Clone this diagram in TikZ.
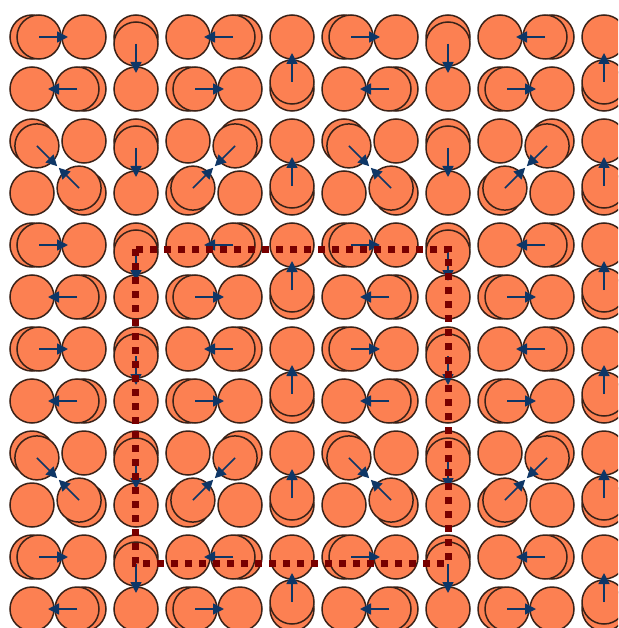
\documentclass[tikz,border=0pt]{standalone}
\usepackage{xcolor}
\usepackage{tikz}
\usetikzlibrary{arrows.meta}

\definecolor{atomfill}{RGB}{252,128,82}
\definecolor{atomline}{RGB}{58,34,24}
\definecolor{dispblue}{RGB}{14,54,102}
\definecolor{cellred}{RGB}{120,0,0}

\begin{document}
\begin{tikzpicture}[
    x=1pt, y=-1pt,
    atom/.style={draw=atomline, fill=atomfill, line width=1.5pt},
    disp/.style={-{Triangle[length=11pt, width=11pt]}, line width=1.7pt, draw=dispblue, fill=dispblue},
    cell/.style={draw=cellred, line width=7pt, dash pattern=on 7pt off 7pt},
]
\useasboundingbox (0,0) rectangle (618,628);
\clip (0,0) rectangle (618,628);

% --- Lattice sites ---
\foreach \c in {0,...,11}
  \foreach \r in {0,...,11}
    \draw[atom] ({32+52*\c},{37+52*\r}) circle[radius=22pt];

% --- Displaced atoms (one 6x6 cell, repeated) ---
\foreach \ox in {0,312}
  \foreach \oy in {0,312}
    \foreach \c/\r/\u/\v in {0/0/1/0, 2/0/0/1, 4/0/-1/0,
                             1/1/-1/0, 3/1/1/0, 5/1/0/-1,
                             0/2/.7/.7, 2/2/0/1, 4/2/-.7/.7,
                             1/3/-.7/-.7, 3/3/.7/-.7, 5/3/0/-1,
                             0/4/1/0, 2/4/0/1, 4/4/-1/0,
                             1/5/-1/0, 3/5/1/0, 5/5/0/-1} {
      \coordinate (front) at ({32+52*\c+\ox+7*\u},{37+52*\r+\oy+7*\v});
      \draw[atom] (front) circle[radius=22pt];
    }

% --- Displacement arrows ---
\foreach \ox in {0,312}
  \foreach \oy in {0,312}
    \foreach \c/\r/\u/\v in {0/0/1/0, 2/0/0/1, 4/0/-1/0,
                             1/1/-1/0, 3/1/1/0, 5/1/0/-1,
                             0/2/.7/.7, 2/2/0/1, 4/2/-.7/.7,
                             1/3/-.7/-.7, 3/3/.7/-.7, 5/3/0/-1,
                             0/4/1/0, 2/4/0/1, 4/4/-1/0,
                             1/5/-1/0, 3/5/1/0, 5/5/0/-1} {
      \coordinate (tail) at ({32+52*\c+\ox+7*\u},{37+52*\r+\oy+7*\v});
      \draw[disp] (tail) -- ++({29*\u},{29*\v});
    }

% --- Unit cell ---
\draw[cell] (135,249) rectangle (448,563);
\end{tikzpicture}
\end{document}
